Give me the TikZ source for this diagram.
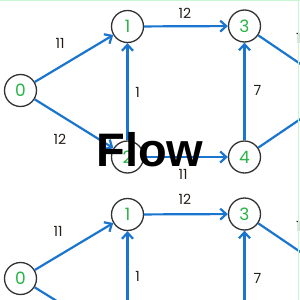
\documentclass[tikz,border=0pt]{standalone}
\usepackage{fontspec}
\setmainfont{Poppins}
\newfontfamily\flowfont{Liberation Sans}
\usetikzlibrary{arrows.meta}
\definecolor{edgeblue}{RGB}{26,117,207}
\definecolor{nodegreen}{RGB}{40,180,70}
\definecolor{ringgray}{RGB}{50,50,50}
\definecolor{labeldark}{RGB}{35,30,25}
\definecolor{framegreen}{RGB}{200,245,210}
\tikzset{
  vert/.style={circle, draw=ringgray, line width=1.3pt, fill=white, minimum size=32pt, inner sep=0pt, text=nodegreen, font=\fontsize{17}{17}\selectfont},
  arc/.style={draw=edgeblue, line width=2.2pt, -{Straight Barb[length=6pt,width=11pt,line width=2.2pt]}},
  plain/.style={draw=edgeblue, line width=2.2pt},
  wt/.style={text=labeldark, font=\fontsize{14}{14}\selectfont, inner sep=0pt},
}
\begin{document}
\begin{tikzpicture}[x=1pt,y=-1pt]
\useasboundingbox (0,0) rectangle (300,300);
\begin{scope}
\clip (0,0) rectangle (300,300);
\fill[white] (0,0) rectangle (300,300);
% top graph
\coordinate (a5) at (341,91.5);
\node[vert] (a0) at (20.5,90.5) {0};
\node[vert] (a1) at (127.5,26.5) {1};
\node[vert] (a3) at (244.5,26) {3};
\node[vert] (a2) at (127.5,157) {2};
\node[vert] (a4) at (244.5,157) {4};
\draw[arc] (a0) -- (a1);
\draw[arc] (a0) -- (a2);
\draw[arc] (a1) -- (a3);
\draw[arc] (a2) -- (a1);
\draw[arc] (a2) -- (a4);
\draw[arc] (a4) -- (a3);
\draw[plain] (a3) -- (a5);
\draw[plain] (a4) -- (a5);
\node[wt] (w01) at (60,43) {11};
\node[wt] (w02) at (60,139) {12};
\node[wt] (w13) at (185,13) {12};
\node[wt] (w21) at (137.5,92) {1};
\node[wt] (w24) at (183,174) {11};
\node[wt] (w43) at (257.5,90) {7};
\node[wt, anchor=west] (w35) at (296,38) {10};
% bottom graph
\coordinate (b5) at (341,279.5);
\coordinate (b2) at (127.5,345);
\coordinate (b4) at (244.5,345);
\node[vert] (b0) at (20.5,278.5) {0};
\node[vert] (b1) at (127.5,214.5) {1};
\node[vert] (b3) at (244.5,214) {3};
\draw[plain] (b0) -- (b2);
\draw[arc] (b1) -- (b3);
\draw[arc] (b2) -- (b1);
\draw[arc] (b0) -- (b1);
\draw[arc] (b4) -- (b3);
\draw[plain] (b3) -- (b5);
\node[wt] (v01) at (58,231) {11};
\node[wt] (v13) at (185,199) {12};
\node[wt] (v21) at (137.5,276) {1};
\node[wt] (v43) at (257.5,278) {7};
\node[wt, anchor=west] (v35) at (296,226) {10};
% frame
\fill[framegreen] (0,0) rectangle (300,1.2);
\fill[framegreen] (298,0) rectangle (299.2,300);
\end{scope}
\node[font=\flowfont\bfseries\fontsize{47}{47}\selectfont, text=black, inner sep=0pt] (title) at (150,150) {Flow};
\end{tikzpicture}
\end{document}
